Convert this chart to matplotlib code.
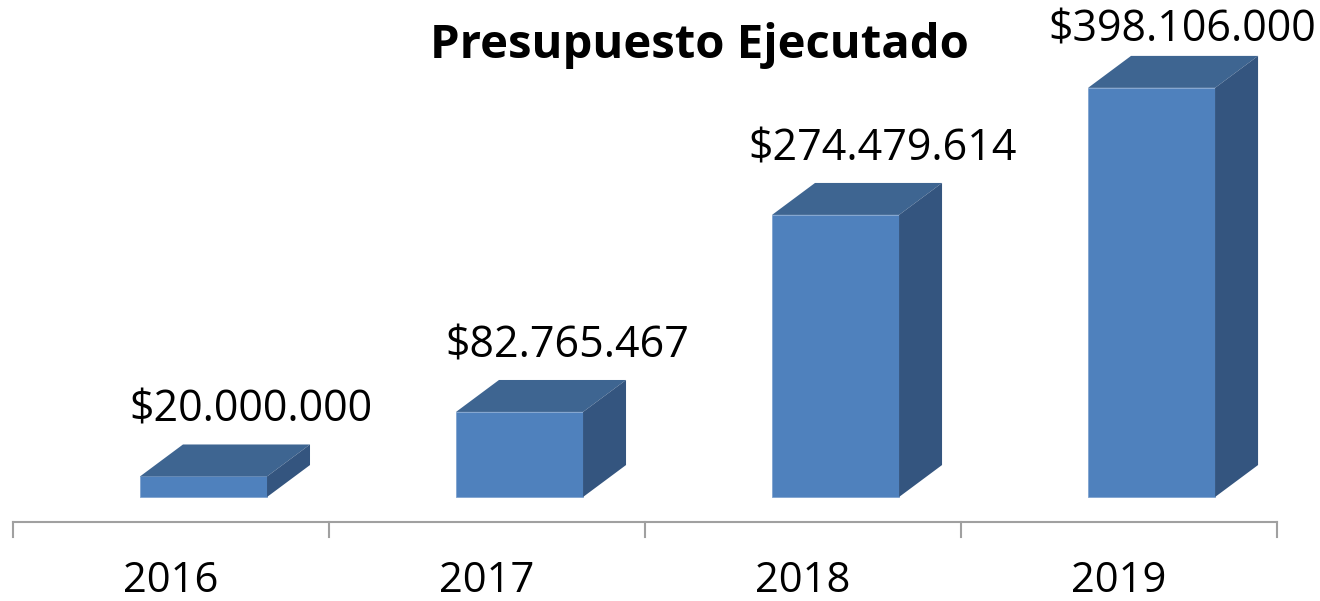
import matplotlib.pyplot as plt
from matplotlib.patches import Polygon

# datos
anios = ['2016', '2017', '2018', '2019']
presupuesto = [20000000, 82765467, 274479614, 398106000]
titulo = 'Presupuesto Ejecutado'

plt.rcParams['font.family'] = ['Open Sans', 'DejaVu Sans']

c_frente = '#4F81BD'
c_techo = '#3E6591'
c_lado = '#34557F'

fig = plt.figure(figsize=(13.2, 6.01), dpi=100)
ax = fig.add_axes([0, 0, 1, 1])
ax.set_xlim(-0.541, 3.636)
ax.set_ylim(-101.2, 483.6)
ax.axis('off')

vals = [v / 1e6 for v in presupuesto]
x = list(range(len(anios)))
off = -0.098  # desplazamiento de la cara frontal
w = 0.402     # ancho de la barra
dx = 0.136    # profundidad en x
dy = 31.1     # profundidad en y

ax.bar([i + off for i in x], vals, width=w, align='edge', color=c_frente,
       edgecolor='#7FA3CF', linewidth=0.6, zorder=2)
for i, v in zip(x, vals):
    x0 = i + off
    x1 = x0 + w
    techo = [(x0, v), (x1, v), (x1 + dx, v + dy), (x0 + dx, v + dy)]
    lado = [(x1, 0), (x1 + dx, dy), (x1 + dx, v + dy), (x1, v)]
    ax.add_patch(Polygon(techo, closed=True, facecolor=c_techo, edgecolor='none', zorder=3))
    ax.add_patch(Polygon(lado, closed=True, facecolor=c_lado, edgecolor='none', zorder=3))
    etiqueta = '$' + f'{presupuesto[i]:,}'.replace(',', '.')
    # que la etiqueta no se salga del borde
    xt = min(x0 + w / 2 + 0.15, 3.2)
    yt = min(v + dy + 33, 454)
    ax.text(xt, yt, etiqueta, ha='center', va='center',
            fontsize=31, color='black', zorder=4)
    ax.text(i, -82, anios[i], ha='center', va='center', fontsize=30, color='black')

# eje x
ax.plot([-0.5, 3.5], [-24.3, -24.3], color='#A0A0A0', linewidth=1.5, zorder=1)
for t in [-0.5, 0.5, 1.5, 2.5, 3.5]:
    ax.plot([t, t], [-24.3, -38.9], color='#A0A0A0', linewidth=1.5, zorder=1)

fig.text(0.53, 0.925, titulo, ha='center', va='center', fontsize=34,
         fontweight='bold', color='black')

fig.savefig('out.png', dpi=100)
